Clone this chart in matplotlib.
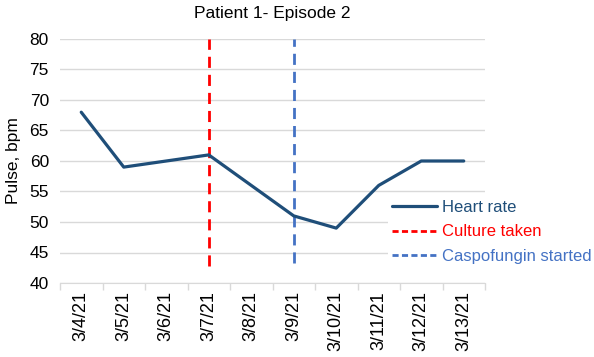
import matplotlib
matplotlib.use('Agg')
import matplotlib.pyplot as plt
import numpy as np

# ─── Data ────────────────────────────────────────────────────────────────────
dates = ['3/4/21', '3/5/21', '3/6/21', '3/7/21', '3/8/21',
         '3/9/21', '3/10/21', '3/11/21', '3/12/21', '3/13/21']
heart_rate = [68, 59, 60, 61, 56, 51, 49, 56, 60, 60]
culture_day = '3/7/21'
culture_span = [42.8, 80]
caspo_day = '3/9/21'
caspo_span = [43.3, 80]

# ─── Style ───────────────────────────────────────────────────────────────────
NAVY = '#1F4E79'
RED = '#FF0000'
BLUE = '#4472C4'
GRID = '#D9D9D9'
plt.rcParams['font.family'] = ['Liberation Sans', 'DejaVu Sans']

fig = plt.figure(figsize=(5.94, 3.57), dpi=100, facecolor='white')
ax = fig.add_axes([60/594, 1-283/357, 425/594, 244/357])

x = np.arange(len(dates))
ax.plot(x, heart_rate, color=NAVY, lw=2.3, solid_capstyle='round',
        label='Heart rate', zorder=3)
xc = dates.index(culture_day)
ax.plot([xc, xc], culture_span, color=RED, lw=2.0, ls=(0, (4, 2.5)),
        label='Culture taken', zorder=2)
xb = dates.index(caspo_day)
ax.plot([xb, xb], caspo_span, color=BLUE, lw=2.0, ls=(0, (4, 2.5)),
        label='Caspofungin started', zorder=2)

ax.set_xlim(-0.5, len(dates) - 0.5)
ax.set_ylim(40, 80)
ax.set_yticks(np.arange(40, 81, 5))
ax.grid(axis='y', color=GRID, lw=1.0)
ax.set_axisbelow(True)

# category axis: ticks between categories, labels at centres
ax.set_xticks(np.arange(-0.5, len(dates)), labels=[''] * (len(dates) + 1))
ax.set_xticks(x, labels=dates, minor=True, rotation=90)
ax.tick_params(axis='x', which='major', length=5, color=GRID, width=1)
ax.tick_params(axis='x', which='minor', length=0, labelsize=13, pad=6)
ax.tick_params(axis='y', length=0, labelsize=12.5, pad=8)

for s in ['top', 'right', 'left']:
    ax.spines[s].set_visible(False)
ax.spines['bottom'].set_color(GRID)

ax.set_ylabel('Pulse, bpm', fontsize=12.5, labelpad=6)
ax.set_title('Patient 1- Episode 2', fontsize=12.5, pad=15)

leg = ax.legend(loc='upper left', bbox_to_anchor=(388/594, 1-196/357),
                bbox_transform=fig.transFigure, fontsize=12,
                frameon=True, facecolor='white', edgecolor='none',
                framealpha=1, handlelength=2.7, handletextpad=0.3,
                labelspacing=0.55, borderpad=0.25, borderaxespad=0)
for txt, c in zip(leg.get_texts(), [NAVY, RED, BLUE]):
    txt.set_color(c)
for h in leg.get_lines()[1:]:
    h.set_linestyle((0, (2.2, 1.2)))

fig.savefig('out.png', dpi=100, facecolor='white')
